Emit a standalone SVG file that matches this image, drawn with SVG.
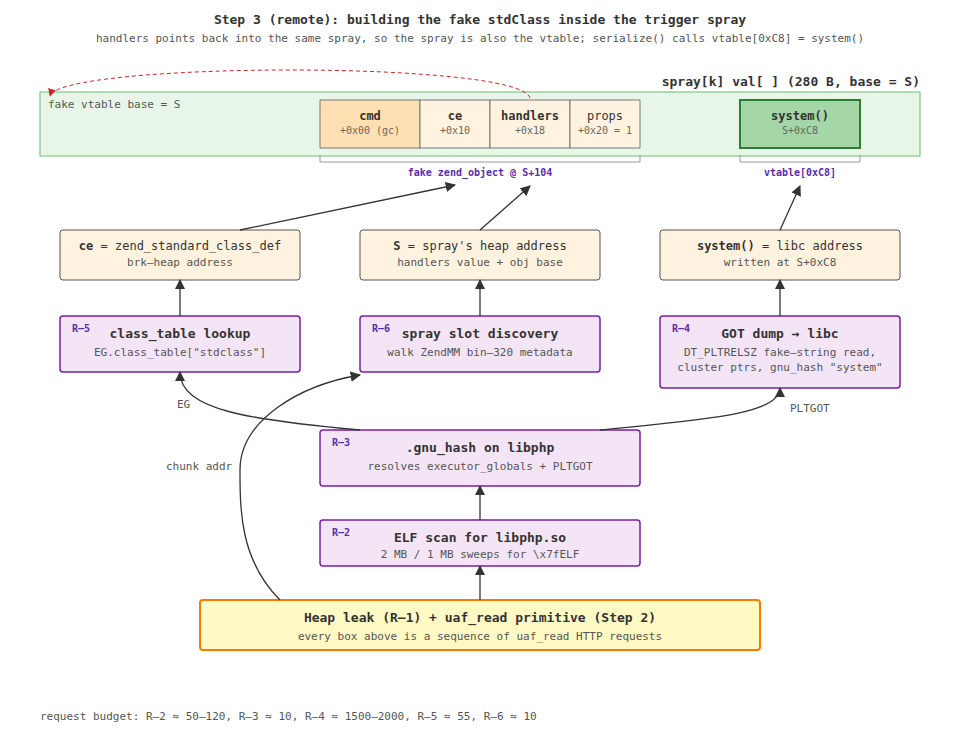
<svg xmlns="http://www.w3.org/2000/svg" width="960" height="740" viewBox="0 0 960 740">
<style>
text{font-family:"DejaVu Sans Mono","Liberation Mono",monospace;fill:#333}
.t{font-size:13px;font-weight:bold;text-anchor:middle}
.s{font-size:11px;fill:#555;text-anchor:middle}
.b{font-size:12px;font-weight:bold;text-anchor:middle}
.f{font-size:10px;fill:#666;text-anchor:middle}
.tag{font-size:10px;font-weight:bold;fill:#5b2da8}
.lab{font-size:11px;fill:#555}
.node{fill:#fff3e0;stroke:#555;stroke-width:1}
.r{fill:#f3e5f5;stroke:#7b1fa2;stroke-width:1.5}
.cell{fill:#fff3e0;stroke:#777;stroke-width:1}
.e{fill:none;stroke:#333;stroke-width:1.3;marker-end:url(#a)}
</style>
<defs>
<marker id="a" viewBox="0 0 10 10" refX="9" refY="5" markerWidth="8" markerHeight="8" orient="auto-start-reverse"><path d="M0,0L10,5L0,10z" fill="#333"/></marker>
<marker id="ar" viewBox="0 0 10 10" refX="9" refY="5" markerWidth="8" markerHeight="8" orient="auto"><path d="M0,0L10,5L0,10z" fill="#c62828"/></marker>
</defs>
<text class="t" x="480" y="24">Step 3 (remote): building the fake stdClass inside the trigger spray</text>
<text class="s" x="480" y="42">handlers points back into the same spray, so the spray is also the vtable; serialize() calls vtable[0xC8] = system()</text>

<g id="spray">
<text x="920" y="86" style="font-size:13px;font-weight:bold;text-anchor:end">spray[k] val[ ] (280 B, base = S)</text>
<rect x="40" y="92" width="880" height="64" fill="#e8f5e9" stroke="#81c784" stroke-width="1.2"/>
<text x="48" y="108" class="lab">fake vtable base = S</text>
<rect x="320" y="100" width="100" height="48" fill="#ffe0b2" stroke="#777"/>
<text class="b" x="370" y="120">cmd</text><text class="f" x="370" y="134">+0x00 (gc)</text>
<rect class="cell" x="420" y="100" width="70" height="48"/>
<text class="b" x="455" y="120">ce</text><text class="f" x="455" y="134">+0x10</text>
<rect class="cell" x="490" y="100" width="80" height="48"/>
<text class="b" x="530" y="120">handlers</text><text class="f" x="530" y="134">+0x18</text>
<rect class="cell" x="570" y="100" width="70" height="48"/>
<text x="605" y="120" style="font-size:12px;text-anchor:middle">props</text><text class="f" x="605" y="134">+0x20 = 1</text>
<rect x="740" y="100" width="120" height="48" fill="#a5d6a7" stroke="#2e7d32" stroke-width="2"/>
<text class="b" x="800" y="120">system()</text><text class="f" x="800" y="134">S+0xC8</text>
<path d="M320,155V162H640V155M740,155V162H860V155" fill="none" stroke="#999"/>
<text x="480" y="176" class="tag" text-anchor="middle">fake zend_object @ S+104</text>
<text x="800" y="176" class="tag" text-anchor="middle">vtable[0xC8]</text>
</g>

<g id="ce"><rect class="node" x="60" y="230" width="240" height="50" rx="3"/>
<text x="180" y="250" style="font-size:12px;text-anchor:middle"><tspan font-weight="bold">ce</tspan> = zend_standard_class_def</text>
<text class="s" x="180" y="266">brk–heap address</text></g>
<g id="S"><rect class="node" x="360" y="230" width="240" height="50" rx="3"/>
<text x="480" y="250" style="font-size:12px;text-anchor:middle"><tspan font-weight="bold">S</tspan> = spray's heap address</text>
<text class="s" x="480" y="266">handlers value + obj base</text></g>
<g id="sys"><rect class="node" x="660" y="230" width="240" height="50" rx="3"/>
<text x="780" y="250" style="font-size:12px;text-anchor:middle"><tspan font-weight="bold">system()</tspan> = libc address</text>
<text class="s" x="780" y="266">written at S+0xC8</text></g>

<g id="r5"><rect class="r" x="60" y="316" width="240" height="56" rx="3"/>
<text class="tag" x="72" y="332">R–5</text><text class="t" x="180" y="338">class_table lookup</text>
<text class="s" x="180" y="356">EG.class_table["stdclass"]</text></g>
<g id="r6"><rect class="r" x="360" y="316" width="240" height="56" rx="3"/>
<text class="tag" x="372" y="332">R–6</text><text class="t" x="480" y="338">spray slot discovery</text>
<text class="s" x="480" y="356">walk ZendMM bin–320 metadata</text></g>
<g id="r4"><rect class="r" x="660" y="316" width="240" height="72" rx="3"/>
<text class="tag" x="672" y="332">R–4</text><text class="t" x="780" y="338">GOT dump → libc</text>
<text class="s" x="780" y="356">DT_PLTRELSZ fake–string read,</text>
<text class="s" x="780" y="371">cluster ptrs, gnu_hash "system"</text></g>
<g id="r3"><rect class="r" x="320" y="430" width="320" height="56" rx="3"/>
<text class="tag" x="332" y="446">R–3</text><text class="t" x="480" y="452">.gnu_hash on libphp</text>
<text class="s" x="480" y="470">resolves executor_globals + PLTGOT</text></g>
<g id="r2"><rect class="r" x="320" y="520" width="320" height="46" rx="3"/>
<text class="tag" x="332" y="536">R–2</text><text class="t" x="480" y="542">ELF scan for libphp.so</text>
<text class="s" x="480" y="558">2 MB / 1 MB sweeps for \x7fELF</text></g>
<g id="leak"><rect x="200" y="600" width="560" height="50" rx="3" fill="#fff9c4" stroke="#f57c00" stroke-width="2"/>
<text class="t" x="480" y="622">Heap leak (R–1) + uaf_read primitive (Step 2)</text>
<text class="s" x="480" y="640">every box above is a sequence of uaf_read HTTP requests</text></g>

<g id="edges">
<path d="M530,98C520,60 60,62 50,96" fill="none" stroke="#c62828" stroke-width="1" stroke-dasharray="4,3" marker-end="url(#ar)"/>
<path class="e" d="M240,230L455,185"/>
<path class="e" d="M480,230L530,186"/>
<path class="e" d="M780,230L800,186"/>
<path class="e" d="M180,316V280"/>
<path class="e" d="M480,316V280"/>
<path class="e" d="M780,316V280"/>
<path class="e" d="M480,520V486"/>
<path class="e" d="M480,600V566"/>
<path class="e" d="M360,430C250,420 180,410 180,372"/>
<path class="e" d="M600,430C700,420 780,415 780,388"/>
<path class="e" d="M280,600C240,560 240,510 240,470C240,420 300,385 360,375"/>
<text class="lab" x="177" y="408">EG</text>
<text class="lab" x="790" y="412">PLTGOT</text>
<text class="lab" x="166" y="470">chunk addr</text>
</g>
<text class="lab" x="40" y="720">request budget: R–2 ≈ 50–120, R–3 ≈ 10, R–4 ≈ 1500–2000, R–5 ≈ 55, R–6 ≈ 10</text>
</svg>
